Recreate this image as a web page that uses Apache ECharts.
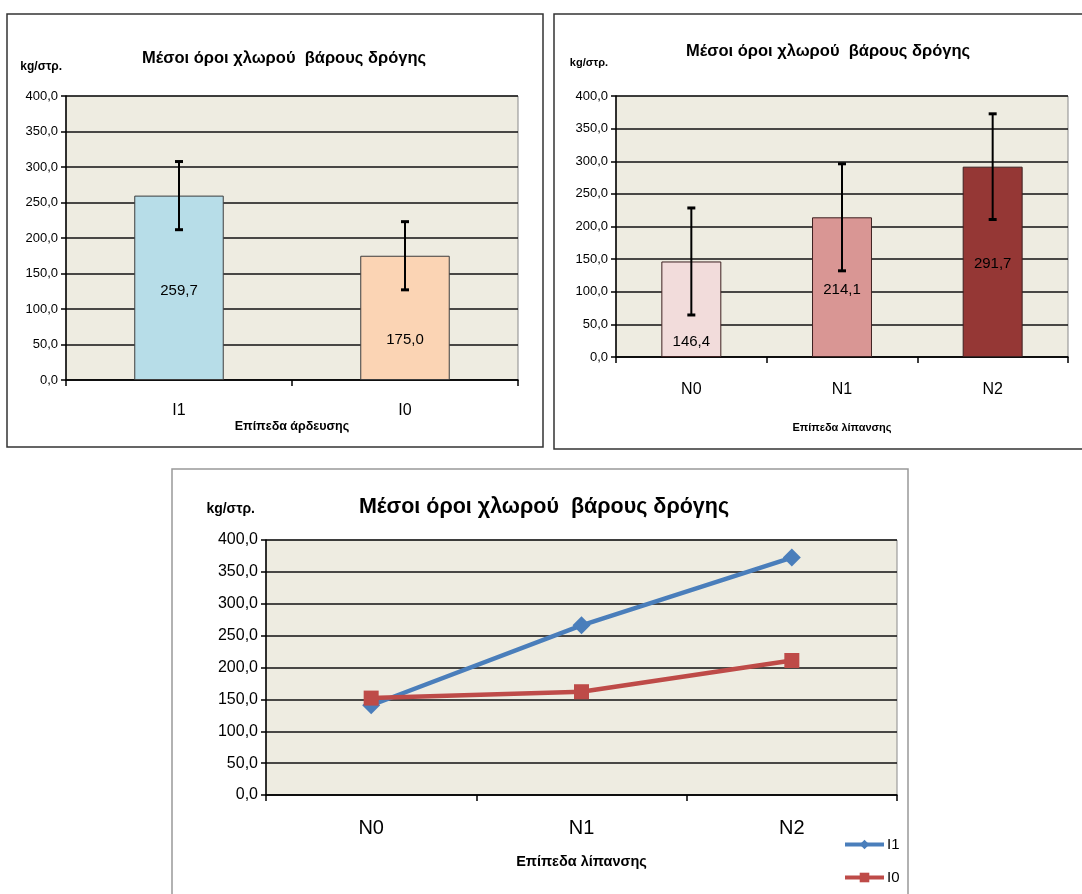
<!DOCTYPE html>
<html>
<head>
<meta charset="utf-8">
<script src="https://cdn.jsdelivr.net/npm/echarts@6/dist/echarts.min.js"></script>
<style>
html,body{margin:0;padding:0;background:#fff;}
#c{width:1082px;height:894px;}
</style>
</head>
<body>
<div id="c"></div>
<script>
// ---------- data ----------
const titleText = 'Μέσοι όροι χλωρού  βάρους δρόγης';
const unitText = 'kg/στρ.';
const yTicks = { min: 0, max: 400, step: 50 };

const irrCategories = ['I1', 'I0'];
const irrMeans = [259.7, 175.0];
const irrErrors = [48, 48];
const irrAxisName = 'Επίπεδα άρδευσης';

const fertCategories = ['N0', 'N1', 'N2'];
const fertMeans = [146.4, 214.1, 291.7];
const fertErrors = [82, 82, 81];
const fertAxisName = 'Επίπεδα λίπανσης';

const lineSeriesNames = ['I1', 'I0'];
const lineI1 = [140.8, 266.2, 372.4];
const lineI0 = [152.0, 162.0, 211.0];

// ---------- styles ----------
const FONT = "'Liberation Sans',Arial,sans-serif";
const irrColors = ['#b7dde8', '#fbd4b4'];
const fertColors = ['#f2dcdb', '#d99694', '#953735'];
const irrLabelShift = [3, 22];
const fertLabelShift = [33, 3, 2];
const plotBg = '#eeece1';

const fmt = v => v.toFixed(1).replace('.', ',');

function errRender(params, api) {
  const i = api.value(0), m = api.value(1), e = api.value(2);
  const top = api.coord([i, m + e]);
  const bot = api.coord([i, m - e]);
  const hw = 4;
  return {
    type: 'group',
    children: [
      { type: 'line', shape: { x1: top[0], y1: top[1], x2: bot[0], y2: bot[1] }, style: { stroke: '#000', lineWidth: 2 } },
      { type: 'line', shape: { x1: top[0] - hw, y1: top[1], x2: top[0] + hw, y2: top[1] }, style: { stroke: '#000', lineWidth: 3 } },
      { type: 'line', shape: { x1: bot[0] - hw, y1: bot[1], x2: bot[0] + hw, y2: bot[1] }, style: { stroke: '#000', lineWidth: 3 } }
    ]
  };
}

function mkY(gi, fontSize, nameSize, nameGap, namePadRight) {
  return {
    type: 'value', gridIndex: gi, min: yTicks.min, max: yTicks.max, interval: yTicks.step,
    name: unitText, nameLocation: 'end', nameGap: nameGap,
    nameTextStyle: { fontFamily: FONT, fontWeight: 'bold', fontSize: nameSize, color: '#000', align: 'right', verticalAlign: 'middle', padding: [0, namePadRight, 0, 0] },
    axisLine: { show: true, lineStyle: { color: '#000', width: 1.5 } },
    axisTick: { show: true, length: 5, lineStyle: { color: '#000', width: 1.5 } },
    axisLabel: { formatter: fmt, fontFamily: FONT, fontSize: fontSize, color: '#000', margin: 8 },
    splitLine: { show: true, lineStyle: { color: '#111', width: 1.5 } }
  };
}

function mkX(gi, cats, labelSize, labelMargin, name, nameSize, nameGap) {
  return {
    type: 'category', gridIndex: gi, data: cats, boundaryGap: true,
    name: name, nameLocation: 'middle', nameGap: nameGap,
    nameTextStyle: { fontFamily: FONT, fontWeight: 'bold', fontSize: nameSize, color: '#000', verticalAlign: 'middle' },
    axisLine: { show: true, lineStyle: { color: '#000', width: 1.5 } },
    axisTick: { show: true, length: 6, alignWithLabel: false, lineStyle: { color: '#000', width: 1.5 } },
    axisLabel: { fontFamily: FONT, fontSize: labelSize, color: '#000', margin: labelMargin },
    splitLine: { show: false }
  };
}

const option = {
  backgroundColor: '#fff',
  animation: false,
  title: [
    { text: titleText, left: 284, top: 50, textAlign: 'center', padding: 0,
      textStyle: { fontFamily: FONT, fontWeight: 'bold', fontSize: 16.5, color: '#000' } },
    { text: titleText, left: 828, top: 43, textAlign: 'center', padding: 0,
      textStyle: { fontFamily: FONT, fontWeight: 'bold', fontSize: 16.5, color: '#000' } },
    { text: titleText, left: 544, top: 496, textAlign: 'center', padding: 0,
      textStyle: { fontFamily: FONT, fontWeight: 'bold', fontSize: 21.5, color: '#000' } }
  ],
  legend: {
    show: true, orient: 'vertical', left: 843, top: 837, padding: 0,
    itemWidth: 39, itemHeight: 12, itemGap: 18,
    data: lineSeriesNames,
    lineStyle: { width: 4 },
    textStyle: { fontFamily: FONT, fontSize: 15, color: '#000', padding: [0, 0, 0, -2] }
  },
  grid: [
    { left: 66, top: 96, width: 452, height: 284, show: true, backgroundColor: plotBg, borderColor: '#8a8a8a', borderWidth: 1 },
    { left: 616, top: 96, width: 452, height: 261, show: true, backgroundColor: plotBg, borderColor: '#8a8a8a', borderWidth: 1 },
    { left: 266, top: 540, width: 631, height: 255, show: true, backgroundColor: plotBg, borderColor: '#8a8a8a', borderWidth: 1 }
  ],
  xAxis: [
    mkX(0, irrCategories, 16, 23, irrAxisName, 12.5, 46),
    mkX(1, fertCategories, 16, 25, fertAxisName, 11, 71),
    mkX(2, fertCategories, 20, 23, fertAxisName, 14.5, 67)
  ],
  yAxis: [
    mkY(0, 13, 12, 29, 4),
    mkY(1, 13, 11, 33, 8),
    mkY(2, 16, 14, 31, 11)
  ],
  series: [
    {
      type: 'bar', xAxisIndex: 0, yAxisIndex: 0, barWidth: '39.6%', z: 2,
      data: irrMeans.map((v, i) => ({
        value: v,
        itemStyle: { color: irrColors[i], borderColor: '#3d3d3d', borderWidth: 1 },
        label: { offset: [0, irrLabelShift[i]] }
      })),
      label: { show: true, position: 'inside', formatter: p => fmt(p.value), fontFamily: FONT, fontSize: 15, color: '#000' }
    },
    {
      type: 'custom', xAxisIndex: 0, yAxisIndex: 0, z: 5, renderItem: errRender,
      encode: { x: 0, y: 1 },
      data: irrMeans.map((v, i) => [i, v, irrErrors[i]])
    },
    {
      type: 'bar', xAxisIndex: 1, yAxisIndex: 1, barWidth: '39.8%', z: 2,
      data: fertMeans.map((v, i) => ({
        value: v,
        itemStyle: { color: fertColors[i], borderColor: '#3d2020', borderWidth: 1 },
        label: { offset: [0, fertLabelShift[i]] }
      })),
      label: { show: true, position: 'inside', formatter: p => fmt(p.value), fontFamily: FONT, fontSize: 15, color: '#000' }
    },
    {
      type: 'custom', xAxisIndex: 1, yAxisIndex: 1, z: 5, renderItem: errRender,
      encode: { x: 0, y: 1 },
      data: fertMeans.map((v, i) => [i, v, fertErrors[i]])
    },
    {
      name: lineSeriesNames[0], type: 'line', xAxisIndex: 2, yAxisIndex: 2, data: lineI1,
      symbol: 'diamond', symbolSize: 18, z: 4,
      lineStyle: { color: '#4a7ebb', width: 4.5 }, itemStyle: { color: '#4a7ebb' }
    },
    {
      name: lineSeriesNames[1], type: 'line', xAxisIndex: 2, yAxisIndex: 2, data: lineI0,
      symbol: 'rect', symbolSize: 15, z: 5,
      lineStyle: { color: '#be4b48', width: 4.5 }, itemStyle: { color: '#be4b48' }
    }
  ],
  graphic: [
    { type: 'rect', shape: { x: 7, y: 14, width: 536, height: 433 }, style: { fill: 'none', stroke: '#333', lineWidth: 1.5 }, z: -1 },
    { type: 'rect', shape: { x: 554, y: 14, width: 545, height: 435 }, style: { fill: 'none', stroke: '#333', lineWidth: 1.5 }, z: -1 },
    { type: 'rect', shape: { x: 172, y: 469, width: 736, height: 440 }, style: { fill: 'none', stroke: '#999', lineWidth: 1.5 }, z: -1 }
  ]
};

const chart = echarts.init(document.getElementById('c'), null, { renderer: 'canvas' });
chart.setOption(option);
</script>
</body>
</html>
